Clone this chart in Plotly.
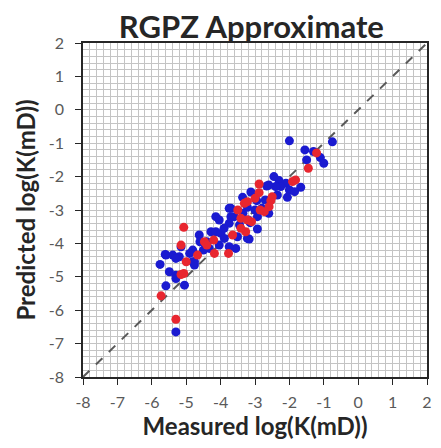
import plotly.graph_objects as go

# Blue series (measured, predicted)
blue_x = [-0.75, -2.0, -1.55, -1.5, -1.1, -1.0, -1.3,
          -2.3, -2.1, -2.25, -1.67, -2.0, -2.35, -2.66, -3.12, -3.36, -2.06, -2.95,
          -3.22, -3.7, -3.6, -3.14, -2.93, -2.93, -3.51, -3.17, -3.56, -3.75,
          -4.62, -4.28, -4.14, -3.99, -4.33, -4.04, -3.89, -5.15, -5.76, -5.59,
          -5.39, -5.2, -5.49, -5.3, -5.05, -5.59, -4.81, -4.76, -4.81, -4.14,
          -4.04, -3.75, -3.7, -3.75, -3.22, -3.2, -3.0, -2.6, -2.7, -2.4, -2.6,
          -5.3, -5.61, -5.3, -5.3, -4.76, -4.5, -4.4, -3.9, -3.45, -2.8, -2.45,
          -1.85, -4.9, -4.6, -3.35]
blue_y = [-0.96, -0.93, -1.2, -1.5, -1.43, -1.6, -1.25,
          -2.12, -2.2, -2.3, -2.32, -2.4, -2.55, -2.28, -2.46, -2.62, -2.62, -2.72,
          -2.92, -2.95, -3.2, -3.38, -3.2, -3.57, -3.8, -3.87, -4.15, -4.1,
          -3.75, -3.65, -3.65, -3.7, -4.15, -4.05, -3.85, -4.1, -4.63, -4.35,
          -4.35, -4.4, -4.85, -4.95, -5.25, -5.27, -4.55, -4.65, -4.2, -3.2,
          -3.3, -2.95, -3.2, -3.4, -3.85, -3.3, -3.0, -3.1, -2.7, -2.3, -2.25,
          -6.65, -4.33, -4.45, -5.05, -4.55, -4.2, -3.95, -3.55, -3.45, -2.95, -2.0,
          -2.45, -4.3, -3.95, -3.1]

# Red series (measured, predicted)
red_x = [-1.45, -1.21, -1.82, -1.91, -2.88, -2.88, -2.54, -2.59, -2.85, -3.22,
         -3.41, -2.73, -3.27, -3.65, -3.77, -3.41, -5.07, -4.47, -4.2, -4.18,
         -4.67, -5.15, -5.0, -5.07, -5.73, -5.3, -3.5, -3.31, -2.5, -3.1,
         -4.4, -3.0, -3.22, -5.15]
red_y = [-1.75, -1.29, -2.1, -2.15, -2.22, -2.48, -2.72, -2.9, -3.0, -2.75,
         -3.25, -3.05, -3.65, -3.75, -4.3, -3.55, -3.52, -3.95, -3.9, -4.3,
         -4.35, -4.05, -4.55, -4.9, -5.57, -6.27, -3.0, -2.8, -2.6, -3.35,
         -4.05, -2.65, -3.3, -4.93]

# 1:1 reference line
line_x = [-8, 2]
line_y = [-8, 2]

x_ticks = [-8, -7, -6, -5, -4, -3, -2, -1, 0, 1, 2]
y_ticks = [-8, -7, -6, -5, -4, -3, -2, -1, 0, 1, 2]

FONT = "Lato"
fig = go.Figure()
fig.add_trace(go.Scatter(x=line_x, y=line_y, mode="lines",
                         line=dict(color="#595959", width=2, dash="dash"),
                         hoverinfo="skip", showlegend=False))
fig.add_trace(go.Scatter(x=blue_x, y=blue_y, mode="markers",
                         marker=dict(color="#1a1ad0", size=9,
                                     line=dict(width=0)),
                         showlegend=False))
fig.add_trace(go.Scatter(x=red_x, y=red_y, mode="markers",
                         marker=dict(color="#e8262f", size=9,
                                     line=dict(width=0)),
                         showlegend=False))

axis_common = dict(
    range=[-8, 2], showline=True, linecolor="#262626", linewidth=1.5,
    mirror=True, ticks="outside", ticklen=6, tickcolor="#262626",
    showgrid=True, gridcolor="#c4c4c4", gridwidth=1, zeroline=False,
    tickfont=dict(family=FONT, size=16, color="#595959"),
    minor=dict(dtick=0.2, showgrid=True, gridcolor="#c4c4c4", gridwidth=1,
               ticks=""),
)

fig.update_layout(
    width=441, height=448,
    margin=dict(l=83, r=9, t=43, b=71),
    paper_bgcolor="white", plot_bgcolor="white",
    title=dict(text="<b>RGPZ Approximate</b>", x=0.57, xanchor="center",
               y=0.94, yanchor="middle",
               font=dict(family=FONT, size=31, color="#262626")),
    xaxis=dict(axis_common, tickvals=x_ticks,
               ticktext=[str(v) for v in x_ticks], ticklabelstandoff=4,
               title=dict(text="<b>Measured log(K(mD))</b>", standoff=1,
                          font=dict(family=FONT, size=24, color="#262626"))),
    yaxis=dict(axis_common, tickvals=y_ticks,
               ticktext=[str(v) for v in y_ticks], ticklabelstandoff=8,
               title=dict(text="<b>Predicted log(K(mD))</b>", standoff=6,
                          font=dict(family=FONT, size=24, color="#262626"))),
)

fig.write_html("out.html")
